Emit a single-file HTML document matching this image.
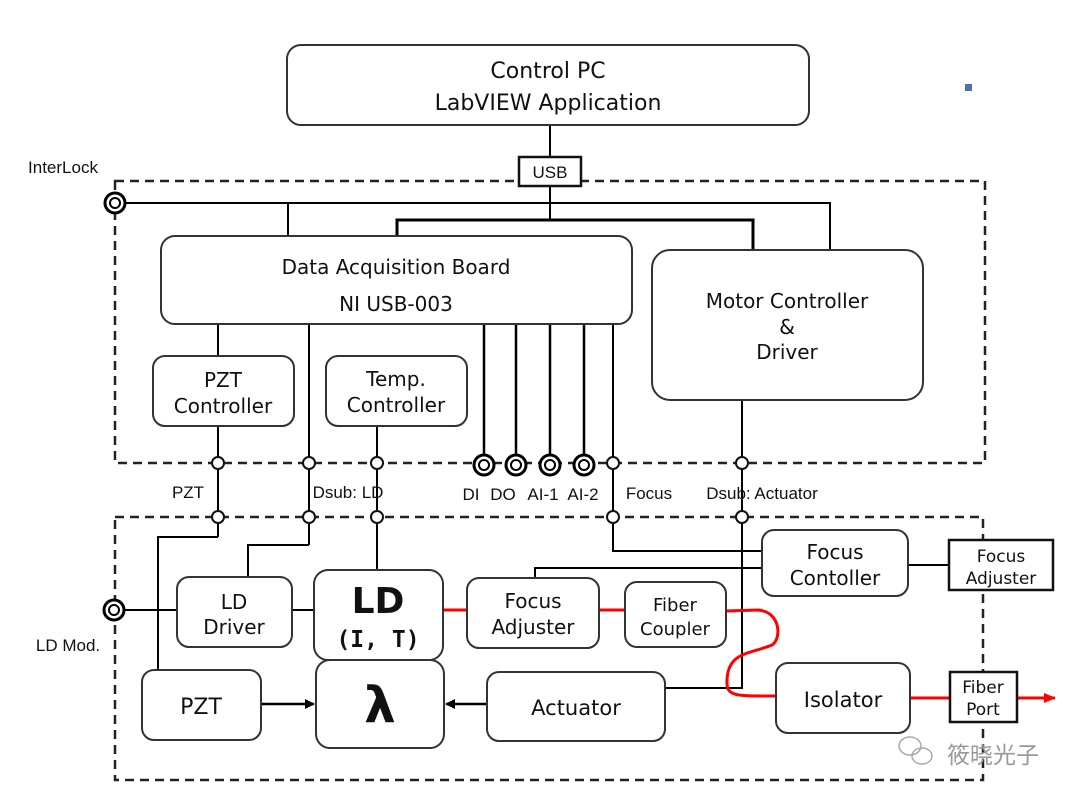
<!DOCTYPE html>
<html><head><meta charset="utf-8"><style>
html,body{margin:0;padding:0;background:#fff;}
svg{display:block;}
text{font-family:"DejaVu Sans","Liberation Sans",sans-serif;fill:#111;text-anchor:middle;}
.lbl{font-family:"Liberation Sans","DejaVu Sans",sans-serif;font-size:17px;}
</style></head><body>
<svg width="1080" height="802" viewBox="0 0 1080 802" xmlns="http://www.w3.org/2000/svg">
<defs><marker id="ab" markerWidth="10" markerHeight="10" refX="9" refY="5" orient="auto" markerUnits="userSpaceOnUse"><path d="M0,0 L10,5 L0,10 z" fill="#000"/></marker>
<marker id="ar" markerWidth="12" markerHeight="10" refX="11" refY="5" orient="auto" markerUnits="userSpaceOnUse"><path d="M0,0 L12,5 L0,10 z" fill="#f00"/></marker></defs>
<g fill="none" stroke="#222" stroke-width="2.5" stroke-dasharray="9,6">
<rect x="115" y="181" width="870" height="282"/>
<rect x="115" y="517" width="868" height="263"/>
</g>
<g stroke="#000" stroke-width="2" fill="none">
<line x1="550" y1="125" x2="550" y2="220"/>
<polyline points="115,203 830,203 830,250"/>
<line x1="288" y1="203" x2="288" y2="236"/>
<polyline points="397,236 397,220 753,220 753,250" stroke-width="3"/>
<line x1="218" y1="324" x2="218" y2="356"/>
<line x1="218" y1="426" x2="218" y2="537"/>
<polyline points="218,537 158,537 158,670"/>
<line x1="309" y1="324" x2="309" y2="545"/>
<polyline points="309,545 248,545 248,577"/>
<line x1="377" y1="426" x2="377" y2="570"/>
<line x1="484" y1="324" x2="484" y2="463" stroke-width="2.5"/>
<line x1="516" y1="324" x2="516" y2="463" stroke-width="2.5"/>
<line x1="550" y1="324" x2="550" y2="463" stroke-width="2.5"/>
<line x1="584" y1="324" x2="584" y2="463" stroke-width="2.5"/>
<polyline points="613,324 613,551 762,551"/>
<polyline points="742,400 742,688 665,688"/>
<polyline points="535,578 535,568 762,568"/>
<line x1="114" y1="610" x2="177" y2="610"/>
<line x1="292" y1="610" x2="314" y2="610"/>
<line x1="908" y1="565" x2="949" y2="565"/>
<line x1="261" y1="704" x2="314" y2="704" marker-end="url(#ab)" stroke-width="2.5"/>
<line x1="487" y1="704" x2="446" y2="704" marker-end="url(#ab)" stroke-width="2.5"/>
</g>
<g stroke="#f00" stroke-width="3" fill="none">
<line x1="443" y1="610" x2="467" y2="610"/>
<line x1="599" y1="610" x2="625" y2="610"/>
<path d="M726,611 L758,610 C782,612 781,640 772,645 C750,654 728,652 727,680 C726,697 735,696 778,696"/>
<line x1="910" y1="698" x2="950" y2="698"/>
<line x1="1017" y1="698" x2="1055" y2="698" marker-end="url(#ar)"/>
</g>
<g fill="#fff" stroke="#333" stroke-width="2">
<rect x="287" y="45" width="522" height="80" rx="14"/>
<rect x="161" y="236" width="471" height="88" rx="14"/>
<rect x="652" y="250" width="271" height="150" rx="18"/>
<rect x="153" y="356" width="141" height="70" rx="12"/>
<rect x="326" y="356" width="141" height="70" rx="12"/>
<rect x="177" y="577" width="115" height="70" rx="12"/>
<rect x="314" y="570" width="129" height="90" rx="14"/>
<rect x="467" y="578" width="132" height="70" rx="12"/>
<rect x="625" y="582" width="101" height="65" rx="12"/>
<rect x="762" y="530" width="146" height="66" rx="12"/>
<rect x="142" y="670" width="119" height="70" rx="12"/>
<rect x="316" y="660" width="128" height="88" rx="14"/>
<rect x="487" y="672" width="178" height="69" rx="12"/>
<rect x="776" y="663" width="134" height="70" rx="12"/>
</g>
<g fill="#fff" stroke="#111" stroke-width="2.5">
<rect x="519" y="157" width="62" height="29"/>
<rect x="949" y="540" width="104" height="50"/>
<rect x="950" y="672" width="67" height="50"/>
</g>
<g fill="#fff" stroke="#111" stroke-width="2">
<circle cx="218" cy="463" r="6"/><circle cx="309" cy="463" r="6"/><circle cx="377" cy="463" r="6"/><circle cx="613" cy="463" r="6"/><circle cx="742" cy="463" r="6"/>
<circle cx="218" cy="517" r="6"/><circle cx="309" cy="517" r="6"/><circle cx="377" cy="517" r="6"/><circle cx="613" cy="517" r="6"/><circle cx="742" cy="517" r="6"/>
</g>
<g fill="#fff" stroke="#000">
<g stroke-width="3"><circle cx="484" cy="465" r="10"/><circle cx="516" cy="465" r="10"/><circle cx="550" cy="465" r="10"/><circle cx="584" cy="465" r="10"/><circle cx="115" cy="203" r="10"/><circle cx="114" cy="610" r="10"/></g>
<g stroke-width="2"><circle cx="484" cy="465" r="5"/><circle cx="516" cy="465" r="5"/><circle cx="550" cy="465" r="5"/><circle cx="584" cy="465" r="5"/><circle cx="115" cy="203" r="5"/><circle cx="114" cy="610" r="5"/></g>
</g>
<rect x="965" y="84" width="7" height="7" fill="#4a72b0"/>
<text x="548" y="78" font-size="22">Control PC</text>
<text x="548" y="110" font-size="22">LabVIEW Application</text>
<text x="550" y="178" font-size="16" class="lbl">USB</text>
<text x="396" y="274" font-size="20">Data Acquisition Board</text>
<text x="396" y="311" font-size="20">NI USB-003</text>
<text x="787" y="308" font-size="20">Motor Controller</text>
<text x="787" y="334" font-size="20">&amp;</text>
<text x="787" y="359" font-size="20">Driver</text>
<text x="223" y="387" font-size="20">PZT</text>
<text x="223" y="413" font-size="20">Controller</text>
<text x="396" y="386" font-size="20">Temp.</text>
<text x="396" y="412" font-size="20">Controller</text>
<text x="63" y="173" class="lbl">InterLock</text>
<text x="68" y="651" class="lbl">LD Mod.</text>
<text x="188" y="498" class="lbl">PZT</text>
<text x="348" y="498" class="lbl">Dsub: LD</text>
<text x="471" y="500" class="lbl">DI</text>
<text x="503" y="500" class="lbl">DO</text>
<text x="543" y="500" class="lbl">AI-1</text>
<text x="583" y="500" class="lbl">AI-2</text>
<text x="649" y="499" class="lbl">Focus</text>
<text x="762" y="499" class="lbl">Dsub: Actuator</text>
<text x="234" y="609" font-size="20">LD</text>
<text x="234" y="634" font-size="20">Driver</text>
<text x="378" y="613" font-size="36" font-weight="bold">LD</text>
<text x="378" y="647" font-size="23" font-weight="bold" style="font-family:'DejaVu Sans Mono',monospace">(I, T)</text>
<text x="533" y="608" font-size="20">Focus</text>
<text x="533" y="634" font-size="20">Adjuster</text>
<text x="675" y="611" font-size="18">Fiber</text>
<text x="675" y="635" font-size="18">Coupler</text>
<text x="835" y="559" font-size="20">Focus</text>
<text x="835" y="585" font-size="20">Contoller</text>
<text x="1001" y="562" font-size="17">Focus</text>
<text x="1001" y="584" font-size="17">Adjuster</text>
<text x="983" y="693" font-size="17">Fiber</text>
<text x="983" y="715" font-size="17">Port</text>
<text x="201" y="714" font-size="22">PZT</text>
<text x="380" y="722" font-size="50" font-weight="bold">λ</text>
<text x="576" y="715" font-size="21">Actuator</text>
<text x="843" y="707" font-size="21">Isolator</text>
<text x="993" y="763" font-size="23" fill="#999" style="fill:#999;font-family:'Noto Sans CJK SC',sans-serif">筱晓光子</text>
<g fill="none" stroke="#aaa" stroke-width="1.5"><ellipse cx="910" cy="746" rx="11" ry="9"/><ellipse cx="922" cy="756" rx="10" ry="8"/></g>
</svg>
</body></html>
